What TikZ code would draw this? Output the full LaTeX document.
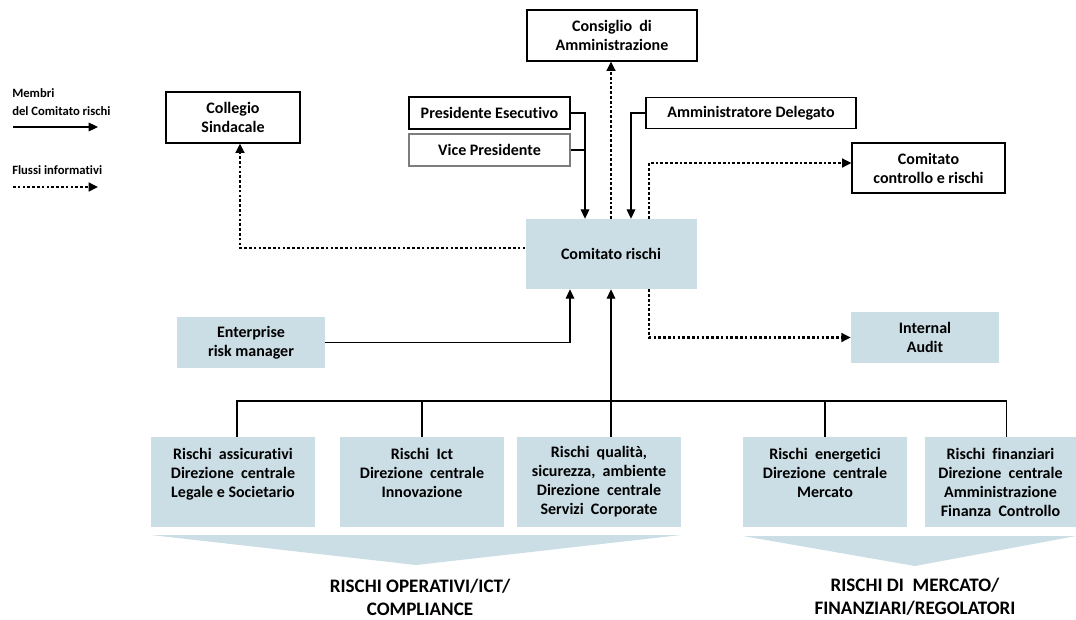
\documentclass[tikz,border=0pt]{standalone}
\usepackage{fontspec}
\setmainfont{Carlito}[Ligatures=NoCommon]
\usetikzlibrary{arrows.meta}
\definecolor{riskblue}{RGB}{203,221,229}
\definecolor{vicegray}{RGB}{125,125,125}

\begin{document}
\begin{tikzpicture}[x=0.75pt,y=-0.75pt,
    every node/.style={font=\bfseries\fontsize{12}{14.25}\selectfont,align=center,inner sep=0pt},
    whitebox/.style={draw=black,line width=0.8pt,fill=white},
    bluebox/.style={fill=riskblue},
    riskbox/.style={fill=riskblue,minimum width=123pt,minimum height=67.5pt},
    member/.style={line width=0.8pt,-{Triangle[length=7pt,width=6.5pt]}},
    flow/.style={line width=1.9pt,dash pattern=on 2pt off 1.6pt,-{Triangle[length=7pt,width=6.5pt]}},
    legend/.style={font=\bfseries\fontsize{9.5}{13.5}\selectfont,align=left,anchor=west},
    biglabel/.style={font=\bfseries\fontsize{14.3}{17.25}\selectfont}]
  \useasboundingbox (0,0) rectangle (1076,619);

  % top part
  \path
    (612,35.5) node[whitebox,minimum width=127.5pt,minimum height=38.25pt] (cda){Consiglio\ \ di\\Amministrazione}
    (233,117.5) node[whitebox,minimum width=100.5pt,minimum height=38.25pt] (cs){Collegio\\Sindacale}
    (489.5,113) node[whitebox,minimum width=120.75pt,minimum height=24pt] (pres){Presidente Esecutivo}
    (489.5,150) node[whitebox,draw=vicegray,minimum width=120.75pt,minimum height=24pt] (vice){Vice Presidente}
    (751,113) node[whitebox,minimum width=157.5pt,minimum height=23.25pt] (ad){Amministratore Delegato}
    (928.5,168) node[whitebox,minimum width=114.75pt,minimum height=37.5pt] (ccr){Comitato\\controllo e rischi}
    (611,254) node[bluebox,minimum width=128.25pt,minimum height=52.5pt] (cr){Comitato rischi}
    (251,342.5) node[bluebox,minimum width=111pt,minimum height=38.25pt] (erm){Enterprise\\risk manager}
    (925,337.5) node[bluebox,minimum width=111pt,minimum height=38.25pt] (ia){Internal\\Audit};

  % risk owners
  \path
    (233,482) node[riskbox] (r1){Rischi\ \ assicurativi\\Direzione\ \ centrale\\Legale e Societario\\~}
    (422,482) node[riskbox] (r2){Rischi\ \ Ict\\Direzione\ \ centrale\\Innovazione\\~}
    (599,482) node[riskbox] (r3){Rischi\ \ qualità,\\sicurezza,\ \ ambiente\\Direzione\ \ centrale\\Servizi\ \ Corporate}
    (825,482) node[riskbox] (r4){Rischi\ \ energetici\\Direzione\ \ centrale\\Mercato\\~}
    (1000.5,482) node[riskbox,minimum width=113.25pt] (r5){Rischi\ \ finanziari\\Direzione\ \ centrale\\Amministrazione\\Finanza\ \ Controllo};

  % legend
  \path
    (12,102) node[legend] (lmembri){Membri\\del Comitato rischi}
    (12,170) node[legend] (lflussi){Flussi informativi};
  \coordinate (lm1) at (13,127);
  \coordinate (lm2) at (98,127);
  \coordinate (lf1) at (13,187);
  \coordinate (lf2) at (98,187);
  \draw[member] (lm1) -- (lm2);
  \draw[flow] (lf1) -- (lf2);

  % members of the committee
  \draw[member] (pres.east) -| ([xshift=-19.5pt]cr.north);
  \draw[line width=0.8pt] (vice.east) -- ++(15.5,0);
  \draw[member] (ad.west) -| ([xshift=15pt]cr.north);
  \draw[member] (erm.east) -| ([xshift=-30.75pt]cr.south);

  % information flows
  \draw[flow] (cr.north) -- (cr.north |- cda.south);
  \draw[flow] ([xshift=28.5pt]cr.north) |- ([yshift=3.75pt]ccr.west);
  \draw[flow] ([yshift=4.5pt]cr.west) -| ([xshift=5.25pt]cs.south);
  \draw[flow] ([xshift=28.5pt]cr.south) |- (ia.west);

  % tree of risk owners
  \coordinate (bus) at (611,401);
  \draw[member] (r3.north -| bus) -- (cr.south);
  \draw[line width=0.8pt] ([xshift=3pt]r1.north) |- (bus) -| ([xshift=4.5pt]r5.north);
  \draw[line width=0.8pt] (r2.north) -- (r2.north |- bus);
  \draw[line width=0.8pt] (r4.north) -- (r4.north |- bus);

  % groups
  \fill[riskblue] (151,535) -- (681,535) -- (416,565) -- cycle;
  \fill[riskblue] (743,536) -- (1076,536) -- (915,566) -- cycle;
  \node[biglabel] (opgroup) at (420,597) {RISCHI OPERATIVI/ICT/\\COMPLIANCE};
  \node[biglabel] (mkgroup) at (915,597) {RISCHI DI\ \ MERCATO/\\FINANZIARI/REGOLATORI};
\end{tikzpicture}
\end{document}
